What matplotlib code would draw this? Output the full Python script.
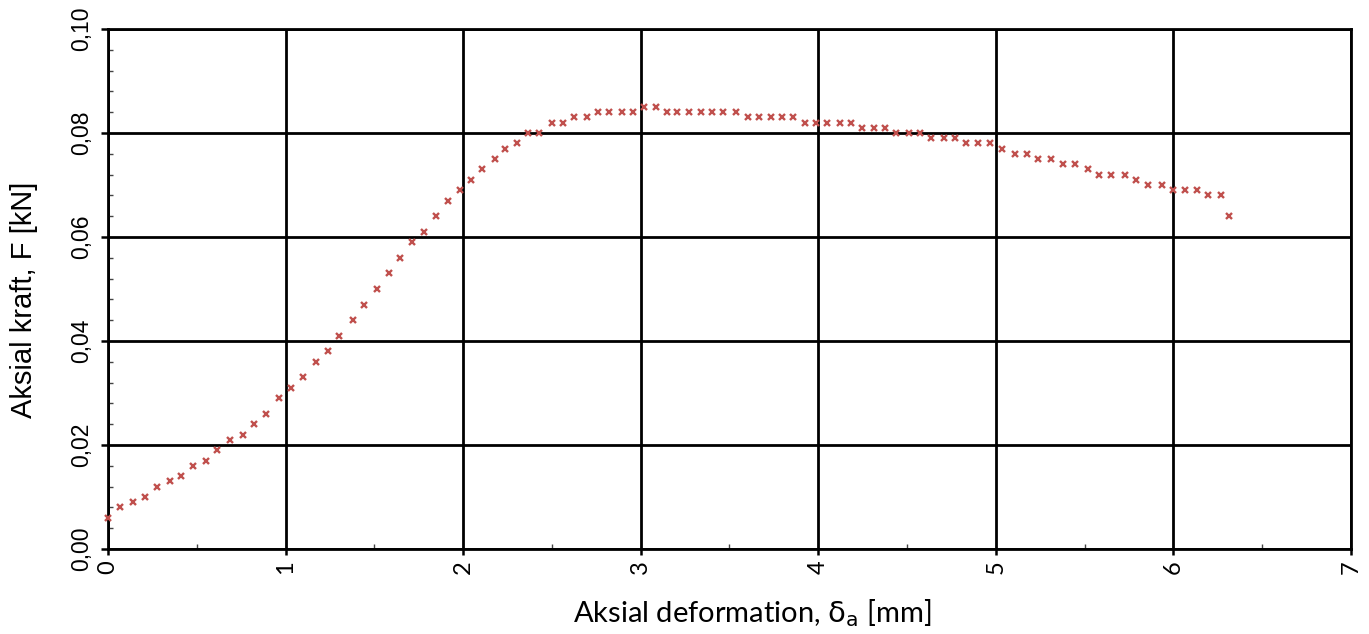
import matplotlib
matplotlib.use("Agg")
import matplotlib.pyplot as plt
from matplotlib.ticker import MultipleLocator

# deformation [mm] and force [kN]
deform = [0.000, 0.068, 0.139, 0.207, 0.274, 0.347, 0.411, 0.477, 0.552, 0.616,
          0.686, 0.759, 0.824, 0.890, 0.965, 1.033, 1.099, 1.170, 1.238, 1.303,
          1.377, 1.442, 1.515, 1.581, 1.645, 1.711, 1.782, 1.846, 1.912, 1.980,
          2.043, 2.107, 2.178, 2.237, 2.304, 2.366, 2.428, 2.501, 2.563, 2.627,
          2.697, 2.761, 2.823, 2.892, 2.954, 3.016, 3.085, 3.147, 3.207, 3.271,
          3.341, 3.403, 3.465, 3.536, 3.602, 3.666, 3.735, 3.797, 3.859, 3.927,
          3.989, 4.051, 4.120, 4.182, 4.246, 4.314, 4.377, 4.439, 4.509, 4.571,
          4.635, 4.706, 4.768, 4.832, 4.901, 4.969, 5.037, 5.110, 5.176, 5.239,
          5.313, 5.380, 5.444, 5.521, 5.583, 5.649, 5.726, 5.792, 5.859, 5.936,
          6.000, 6.064, 6.131, 6.197, 6.267, 6.314]
force = [0.006, 0.008, 0.009, 0.010, 0.012, 0.013, 0.014, 0.016, 0.017, 0.019,
         0.021, 0.022, 0.024, 0.026, 0.029, 0.031, 0.033, 0.036, 0.038, 0.041,
         0.044, 0.047, 0.050, 0.053, 0.056, 0.059, 0.061, 0.064, 0.067, 0.069,
         0.071, 0.073, 0.075, 0.077, 0.078, 0.080, 0.080, 0.082, 0.082, 0.083,
         0.083, 0.084, 0.084, 0.084, 0.084, 0.085, 0.085, 0.084, 0.084, 0.084,
         0.084, 0.084, 0.084, 0.084, 0.083, 0.083, 0.083, 0.083, 0.083, 0.082,
         0.082, 0.082, 0.082, 0.082, 0.081, 0.081, 0.081, 0.080, 0.080, 0.080,
         0.079, 0.079, 0.079, 0.078, 0.078, 0.078, 0.077, 0.076, 0.076, 0.075,
         0.075, 0.074, 0.074, 0.073, 0.072, 0.072, 0.072, 0.071, 0.070, 0.070,
         0.069, 0.069, 0.069, 0.068, 0.068, 0.064]

xticks = [0, 1, 2, 3, 4, 5, 6, 7]
yticks = [0.00, 0.02, 0.04, 0.06, 0.08, 0.10]
ylabels = ["0,00", "0,02", "0,04", "0,06", "0,08", "0,10"]

fig = plt.figure(figsize=(13.69, 6.34), dpi=100)
ax = fig.add_axes([0.0789, 0.1341, 0.9079, 0.8202])

ax.plot(deform, force, linestyle="none", marker="x", color="#C0504D",
        markersize=4.5, markeredgewidth=1.7, zorder=3, clip_on=False)

ax.set_xlim(0, 7)
ax.set_ylim(0, 0.10)
ax.set_xticks(xticks, [str(t) for t in xticks], rotation=90,
              fontfamily="Lato", fontsize=17)
ax.set_yticks(yticks, ylabels, rotation=90, va="center",
              fontfamily="Liberation Sans", fontsize=16.5)
ax.xaxis.set_minor_locator(MultipleLocator(0.5))
ax.yaxis.set_minor_locator(MultipleLocator(0.004))

ax.tick_params(axis="x", which="major", direction="out", length=4, width=1.8, pad=4)
ax.tick_params(axis="y", which="major", direction="out", length=5, width=1.8, pad=6)
ax.tick_params(which="minor", direction="in", length=3.5, width=1, color="#444444")

ax.grid(True, which="major", color="black", linewidth=2.0)
for s in ax.spines.values():
    s.set_linewidth(2.0)
    s.set_color("black")

ax.set_ylabel("Aksial kraft, F [kN]", fontfamily="Liberation Sans",
              fontsize=21, va="center")
ax.yaxis.set_label_coords(-0.0676, 0.479)
ax.set_xlabel(r"Aksial deformation, $\mathrm{\delta}_{\mathrm{a}}$ [mm]",
              fontfamily="Lato", fontsize=21, va="center")
ax.xaxis.set_label_coords(0.518, -0.123)

fig.savefig("out.png", dpi=100)
